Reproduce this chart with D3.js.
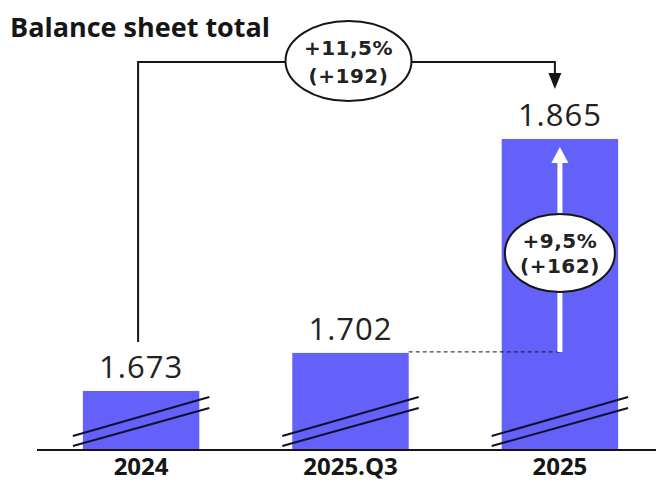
<!DOCTYPE html>
<html>
<head>
<meta charset="utf-8">
<script src="https://cdn.jsdelivr.net/npm/d3@7"></script>
<style>
  html, body { margin: 0; padding: 0; background: #fff; }
  svg { display: block; }
</style>
</head>
<body>
<svg id="chart" width="656" height="482"></svg>
<script>
// Balance sheet total by period
const categories = ["2024", "2025.Q3", "2025"];
const values = [1.673, 1.702, 1.865];
const valueLabels = ["1.673", "1.702", "1.865"];
const totalChange = ["+11,5%", "(+192)"];
const recentChange = ["+9,5%", "(+162)"];
const title = "Balance sheet total";

const W = 656, H = 482;
const baseY = 450;
const barColor = "#6461fa";
const ink = "#161616";

const svg = d3.select("#chart");

// broken value axis: bars start at a floor below the smallest value
const y = d3.scaleLinear().domain([1.628, 1.865]).range([baseY, 139]);
const x = d3.scaleBand().domain(categories).range([41, 660])
  .paddingInner(0.444).paddingOuter(0.2);

const data = categories.map((c, i) => ({ cat: c, value: values[i], label: valueLabels[i] }));

// title
svg.append("text")
  .attr("x", 10).attr("y", 37)
  .attr("font-family", "Open Sans").attr("font-weight", 700).attr("font-size", 27)
  .attr("fill", ink).text(title);

// bars
svg.selectAll("rect.bar").data(data).enter().append("rect")
  .attr("class", "bar")
  .attr("x", d => x(d.cat))
  .attr("y", d => y(d.value))
  .attr("width", x.bandwidth())
  .attr("height", d => baseY - 1 - y(d.value))
  .attr("fill", barColor);

// axis break marks across the foot of each bar
const breaks = svg.append("g").attr("stroke", "#10112a").attr("stroke-width", 2);
data.forEach(d => {
  const x0 = x(d.cat) - 10, x1 = x(d.cat) + x.bandwidth() + 10;
  breaks.append("line").attr("x1", x0).attr("y1", baseY - 14).attr("x2", x1).attr("y2", baseY - 53);
  breaks.append("line").attr("x1", x0).attr("y1", baseY - 4).attr("x2", x1).attr("y2", baseY - 42);
});

// baseline
svg.append("line")
  .attr("x1", 37).attr("x2", W).attr("y1", baseY).attr("y2", baseY)
  .attr("stroke", ink).attr("stroke-width", 2);

// category labels
svg.selectAll("text.cat").data(data).enter().append("text")
  .attr("class", "cat")
  .attr("x", d => x(d.cat) + x.bandwidth() / 2)
  .attr("y", 475)
  .attr("text-anchor", "middle")
  .attr("font-family", "Open Sans").attr("font-weight", 700).attr("font-size", 24)
  .attr("fill", ink)
  .text(d => d.cat);

// value labels
svg.selectAll("text.val").data(data).enter().append("text")
  .attr("class", "val")
  .attr("x", d => x(d.cat) + x.bandwidth() / 2)
  .attr("y", d => y(d.value) - 13)
  .attr("text-anchor", "middle")
  .attr("font-family", "Open Sans").attr("font-size", 31)
  .attr("letter-spacing", 1)
  .attr("fill", "#222")
  .text(d => d.label);

// dashed guide from the 2025.Q3 level to the growth arrow
const cx2 = x(categories[2]) + x.bandwidth() / 2;
const cx0 = x(categories[0]) + x.bandwidth() / 2;
const yQ3 = y(values[1]);
svg.append("line")
  .attr("x1", x(categories[1]) + x.bandwidth()).attr("x2", cx2)
  .attr("y1", yQ3 - 1).attr("y2", yQ3 - 1)
  .attr("stroke", ink).attr("stroke-width", 1).attr("stroke-dasharray", "4,3");

// white growth arrow inside the 2025 bar
const yTop = y(values[2]);
svg.append("line")
  .attr("x1", cx2).attr("x2", cx2)
  .attr("y1", yQ3 - 1).attr("y2", yTop + 22)
  .attr("stroke", "#fff").attr("stroke-width", 5);
svg.append("path")
  .attr("d", `M${cx2},${yTop + 8} L${cx2 - 8.5},${yTop + 24} L${cx2 + 8.5},${yTop + 24} Z`)
  .attr("fill", "#fff");

// connector from 2024 over to 2025
const connY = 62;
const conn = svg.append("g").attr("fill", "none").attr("stroke", ink).attr("stroke-width", 2);
conn.append("path")
  .attr("d", `M${cx0 - 3},${y(values[0]) - 49} V${connY} H${cx2 - 5} V${76}`);
svg.append("path")
  .attr("d", `M${cx2 - 5},${89} L${cx2 - 11.5},${73} L${cx2 + 1.5},${73} Z`)
  .attr("fill", ink);

// change bubbles
function bubble(cx, cy, rx, ry, lines, y1, y2) {
  svg.append("ellipse")
    .attr("cx", cx).attr("cy", cy).attr("rx", rx).attr("ry", ry)
    .attr("fill", "#fff").attr("stroke", ink).attr("stroke-width", 2);
  [y1, y2].forEach((ty, i) => {
    svg.append("text")
      .attr("x", cx).attr("y", ty)
      .attr("text-anchor", "middle")
      .attr("font-family", "DejaVu Sans").attr("font-weight", 700).attr("font-size", 20)
      .attr("letter-spacing", 0.5)
      .attr("fill", "#222")
      .text(lines[i]);
  });
}
bubble(348.5, 61, 63, 40, totalChange, 55, 83);
bubble(cx2, 253, 55, 39, recentChange, 248, 273);
</script>
</body>
</html>
